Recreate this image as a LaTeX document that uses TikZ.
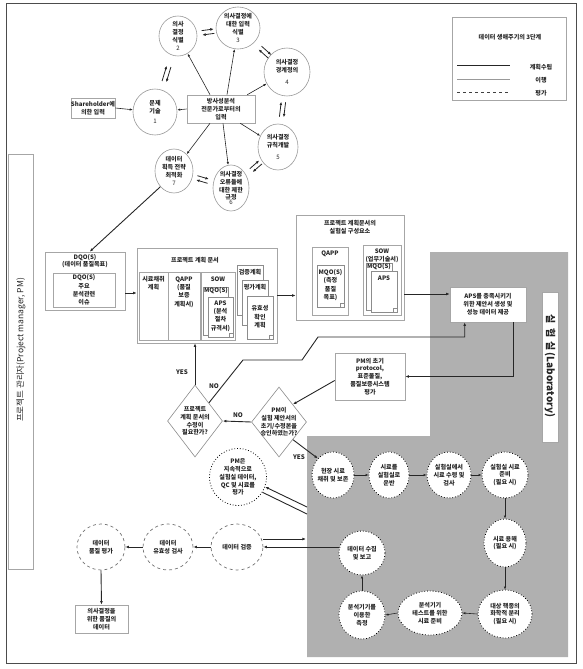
\documentclass[tikz,border=0pt]{standalone}
\usepackage{fontspec}
\setmainfont{Noto Sans CJK KR}
\usetikzlibrary{shapes.geometric,arrows.meta,calc}
\newcommand\dblarr[3]{%
  \draw[arrdbl] ($(#1)!#3-0.1!(#2)!2.2pt!90:(#2)$) -- ($(#1)!#3+0.1!(#2)!2.2pt!90:(#2)$);
  \draw[arrdbl] ($(#1)!#3+0.1!(#2)!2.2pt!-90:(#2)$) -- ($(#1)!#3-0.1!(#2)!2.2pt!-90:(#2)$);}
\begin{document}
\begin{tikzpicture}[x=1pt,y=-1pt,
  font=\fontsize{6.1}{7.8}\selectfont\bfseries,
  every node/.style={align=center, inner sep=0pt, text=black!85},
  arr/.style={-{Latex[length=3.6pt,width=2.8pt]}, line width=0.9pt, black!85},
  arrthin/.style={-{Latex[length=3pt,width=2.4pt]}, line width=0.6pt, black!85},
  arrdbl/.style={-{Latex[length=3.4pt,width=2.8pt]}, line width=0.8pt, black!85},
  topc/.style={ellipse, draw=black!40, line width=0.6pt, fill=white},
  labc/.style={ellipse, draw=black, dotted, line width=0.8pt, fill=white},
  evalc/.style={ellipse, draw=black!55, dashed, line width=0.7pt, fill=white},
  box/.style={draw=black!35, line width=0.6pt, fill=white},
  doc/.style={draw=black!45, line width=0.5pt, fill=white},
  dia/.style={diamond, draw=black!45, line width=0.6pt, fill=white},
  tall/.style={font=\fontsize{6.1}{8.4}\selectfont\bfseries},
]
\useasboundingbox (0,0) rectangle (583,669);
% laboratory region
\fill[black!31] (430,252) -- (568,252) -- (568,657) -- (307,657) -- (307,436) -- (430,436) -- cycle;
% outer frame
\draw[black!70, line width=1pt] (6,4) rectangle (576,663);

% legend
\node[box, minimum width=114, minimum height=83, anchor=north west] (leg) at (452,17) {};
\node (legt) at (510,37) {데이터 생애주기의 3단계};
\coordinate (l1a) at (457,66); \coordinate (l1b) at (510,66);
\coordinate (l2a) at (457,79); \coordinate (l2b) at (510,79);
\coordinate (l3a) at (457,92); \coordinate (l3b) at (510,92);
\draw[line width=1pt, black!85] (l1a) -- (l1b);
\draw[line width=0.5pt, black!40] (l2a) -- (l2b);
\draw[line width=0.8pt, black!75, dashed] (l3a) -- (l3b);
\node (l1t) at (541,67) {계획수립};
\node (l2t) at (541,80) {이행};
\node (l3t) at (541,93) {평가};

% PM label
\node[box, minimum width=25, minimum height=415] (pmlab) at (20.5,362) {};
\node[rotate=90, font=\fontsize{8.5}{10}\selectfont] (pmlabt) at (21,350) {프로젝트 관리자(Project manager, PM)};

% lab label
\node[box, minimum width=16, minimum height=150] (lablab) at (550,367) {};
\node[rotate=-90, font=\fontsize{10}{12}\selectfont\bfseries] (lablabt) at (550,366) {실\,\ 험\,\ 실\ (Laboratory)};

% top cluster
\node[box, minimum width=68, minimum height=28] (src) at (221,109) {방사성분석\\전문가로부터의\\입력};
\node[box, minimum width=41, minimum height=20] (sh) at (93,108) {Shareholder에\\의한 입력};
\node[topc, minimum width=44, minimum height=46, label={[align=center]center:{문제\\기술\\[3pt]{\normalfont 1}}}] (c1) at (155,112) {};
\node[topc, minimum width=38, minimum height=40, label={[align=center]center:{의사\\결정\\식별\\{\normalfont 2}}}] (c2) at (178,36) {};
\node[topc, minimum width=44, minimum height=42, label={[align=center]center:{의사결정에\\대한 입력\\식별\\{\normalfont 3}}}] (c3) at (238,28) {};
\node[topc, minimum width=46, minimum height=48, label={[align=center]center:{의사결정\\경계정의\\[4pt]{\normalfont 4}}}] (c4) at (287,72) {};
\node[topc, minimum width=40, minimum height=46, label={[align=center]center:{의사결정\\규칙개발\\[4pt]{\normalfont 5}}}] (c5) at (278,147) {};
\node[topc, minimum width=36, minimum height=46, label={[align=center]center:{의사결정\\오류들에\\대한 제한\\규정\\[-3pt]{\normalfont 6}}}] (c6) at (231,188) {};
\node[topc, minimum width=38, minimum height=44, label={[align=center]center:{데이터\\획득 전략\\최적화\\{\normalfont 7}}}] (c7) at (174,171) {};

\draw[arrthin] (src.west) -- (c1);
\draw[arrthin] (sh.east) -- (c1);
\draw[arrthin] ([xshift=-11pt]src.north) -- (c2);
\draw[arrthin] ([xshift=6pt]src.north) -- (c3);
\draw[arrthin] ([xshift=-8pt]src.north east) -- (c4);
\draw[arrthin] ([xshift=-15pt]src.south east) -- (c5);
\draw[arrthin] ([xshift=2pt]src.south) -- (c6);
\draw[arrthin] ([xshift=-11pt]src.south) -- (c7);
\dblarr{c1}{c2}{0.5}
\dblarr{c2}{c3}{0.5}
\dblarr{c3}{c4}{0.55}
\dblarr{c4}{c5}{0.5}
\dblarr{c5}{c6}{0.47}
\dblarr{c6}{c7}{0.5}

% DQO
\node[box, minimum width=80, minimum height=58] (dqo) at (85,281) {};
\node (dqot) at (85,261) {DQO(S)\\(데이터 품질목표)};
\node[box, minimum width=62, minimum height=34, tall] (dqoi) at (84,290) {DQO(S)\\주요\\분석관련\\이슈};
\draw[arr] (c7.south west) -- ([xshift=45pt]dqo.north west);

% project plan document
\node[box, minimum width=140, minimum height=95] (plan) at (207,295.5) {};
\node (plant) at (195,260) {프로젝트 계획 문서};
\node[box, minimum width=29, minimum height=68, anchor=north west] (pc1) at (139,272) {};
\node (pc1t) at (153.5,283) {시료채취\\계획};
\node[box, minimum width=32, minimum height=68, anchor=north west] (pc2) at (168,272) {};
\node[tall] (pc2t) at (184,292) {QAPP\\(품질\\보증\\계획서)};
\node[box, minimum width=34, minimum height=68, anchor=north west] (pc3) at (201,272) {};
\node (pc3t) at (218,279) {SOW};
\node[doc, minimum width=25, minimum height=48, anchor=north west] (pmqo) at (203,287) {};
\node (pmqot) at (216,291) {MQO(S)};
\node[doc, minimum width=25, minimum height=40, anchor=north west] (paps) at (208,297) {};
\node[tall] (papst) at (220.5,316) {APS\\(분석\\절차\\규격서)};
\node[doc, minimum width=26, minimum height=50, anchor=north west] (pd1) at (237,265) {};
\node (pd1t) at (250,272) {검증계획};
\node[doc, minimum width=26, minimum height=45, anchor=north west] (pd2) at (242,280) {};
\node (pd2t) at (255,287) {평가계획};
\node[doc, minimum width=26, minimum height=43, anchor=north west] (pd3) at (247,296) {};
\node[tall] (pd3t) at (260,317) {유효성\\확인\\계획};
\foreach \n in {paps,pd3}{
  \draw[black!45, line width=0.5pt] ([xshift=-4pt]\n.south east) -- ([xshift=-4pt,yshift=4pt]\n.south east) -- ([yshift=4pt]\n.south east);}

\draw[arr] ([yshift=-12pt]dqo.east) -- ([yshift=-12pt]dqo.east -| plan.west);

% lab components
\node[box, minimum width=108, minimum height=105] (lc) at (350,267.5) {};
\node (lct) at (350,227) {프로젝트 계획문서의\\실험실 구성요소};
\node[box, minimum width=36, minimum height=68, anchor=north west] (lq) at (312,247) {};
\node (lqt) at (330,254) {QAPP};
\node[doc, minimum width=27, minimum height=42, anchor=north west] (lqm) at (317,265) {};
\node[tall] (lqmt) at (330.5,285) {MQO(S)\\(측정\\품질\\목표)};
\node[box, minimum width=38, minimum height=70, anchor=north west] (ls) at (363,245) {};
\node (lst) at (382,256) {SOW\\(업무기술서)};
\node[doc, minimum width=26, minimum height=47, anchor=north west] (lsm) at (366,263) {};
\node (lsmt) at (379,267) {MQO(S)};
\node[doc, minimum width=26, minimum height=41, anchor=north west] (lsa) at (371,271) {};
\node (lsat) at (384,278) {APS};
\foreach \n in {lqm,lsa}{
  \draw[black!45, line width=0.5pt] ([xshift=-4pt]\n.south east) -- ([xshift=-4pt,yshift=4pt]\n.south east) -- ([yshift=4pt]\n.south east);}

\draw[arr] (plan.east) -- (plan.east -| lc.west);

% APS box
\node[box, minimum width=76, minimum height=35] (aps) at (488,304.5) {APS를 충족시키기\\위한 제안서 생성 및\\성능 데이터 제공};
\draw[arr] ([yshift=-26.5pt]lc.east) -- ([yshift=-26.5pt]lc.east -| aps.west);

% PM evaluation box
\node[box, minimum width=70, minimum height=47] (pm) at (370,376.5) {PM의 초기\\protocol,\\표준물질,\\품질보증시스템\\평가};
\draw[arr] ([xshift=-13pt]aps.south east) |- (pm.east);

% diamonds
\node[dia, minimum width=55, minimum height=72] (d1) at (195,421) {};
\node (d1t) at (195,421) {프로젝트\\계획 문서의\\수정이\\필요한가?};
\node[dia, minimum width=55, minimum height=70] (d2) at (279,422) {};
\node (d2t) at (279,422) {PM이\\실험 제안서의\\초기/수정본을\\승인하였는가?};

\coordinate (k1) at (243,360);
\coordinate (k2) at (302,360);
\coordinate (k3) at (318,337);
\draw[arr] ($(d1.north)!0.5!(d1.east)$) -- (k1) -- (k2) -- (k3) -| ([xshift=15pt]aps.south west);
\draw[arr] ([yshift=-4pt]pm.west) -- ($(d2.north)!0.5!(d2.east)$);
\draw[arr] (d2.west) -- (d1.east);
\draw[arr] (d1.north) -- (d1.north |- plan.south);

\node[font=\fontsize{6.3}{7}\selectfont\bfseries] (yes1) at (182,372) {YES};
\node[font=\fontsize{6.3}{7}\selectfont\bfseries] (no1) at (214,386) {NO};
\node[font=\fontsize{6.3}{7}\selectfont\bfseries] (no2) at (238,415) {NO};
\node[font=\fontsize{6.3}{7}\selectfont\bfseries] (yes2) at (299,457) {YES};

% PM continuous evaluation
\node[labc, minimum width=57, minimum height=57, label={[align=center]center:{PM은\\지속적으로\\실험실 데이터,\\QC 및 시료를\\평가}}] (pmc) at (238,477) {};
\coordinate (pu) at (307,507);
\coordinate (pd) at (307,514);
\draw[arr] (pu) -- (pmc.-20);
\draw[line width=0.9pt, black!85] (pmc.-32) -- (pd);

% lab circles
\node[labc, minimum width=42, minimum height=46, label={[align=center]center:{현장 시료\\채취 및 보존}}] (f1) at (333,475) {};
\node[labc, minimum width=40, minimum height=46, label={[align=center]center:{시료를\\실험실로\\운반}}] (f2) at (389,475) {};
\node[labc, minimum width=44, minimum height=46, label={[align=center]center:{실험실에서\\시료 수령 및\\검사}}] (f3) at (449,475) {};
\node[labc, minimum width=46, minimum height=46, label={[align=center]center:{실험실 시료\\준비\\(필요 시)}}] (f4) at (505,475) {};
\node[labc, minimum width=42, minimum height=48, label={[align=center]center:{시료 용해\\(필요 시)}}] (f5) at (505,543) {};
\node[labc, minimum width=54, minimum height=48, label={[align=center]center:{대상 핵종의\\화학적 분리\\(필요 시)}}] (f6) at (505,614) {};
\node[labc, minimum width=64, minimum height=44, label={[align=center]center:{분석기기\\테스트를 위한\\시료 준비}}] (f7) at (430,613) {};
\node[labc, minimum width=46, minimum height=48, label={[align=center]center:{분석기기를\\이용한\\측정}}] (f8) at (362,615) {};
\node[labc, minimum width=46, minimum height=44, label={[align=center]center:{데이터 수집\\및 보고}}] (f9) at (362,553) {};

\draw[arr] ($(d2.south)!0.5!(d2.east)$) -- (f1.north west);
\draw[arrthin] (f1.east) -- (f2.west);
\draw[arrthin] (f2.east) -- (f3.west);
\draw[arrthin] (f3.east) -- (f4.west);
\draw[arrthin] (f4.south) -- (f5.north);
\draw[arrthin] (f5.south) -- (f6.north);
\draw[arrthin] (f6.west) -- (f7.east);
\draw[arrthin] (f7.west) -- (f8.east);
\draw[arrthin] (f8.north) -- (f9.south);

% evaluation circles
\node[evalc, minimum width=52, minimum height=46, label={[align=center]center:{데이터 검증}}] (e1) at (237,547) {};
\node[evalc, minimum width=50, minimum height=46, label={[align=center]center:{데이터\\유효성 검사}}] (e2) at (168,547) {};
\node[evalc, minimum width=48, minimum height=46, label={[align=center]center:{데이터\\품질 평가}}] (e3) at (101,547) {};
\node[box, minimum width=53, minimum height=28] (out) at (101.5,619) {의사결정을\\위한 품질의\\데이터};

\coordinate (gedge) at (306,539);
\draw[arr] ([yshift=8pt]e1.east) -- (gedge);
\draw[arr] (f9.west |- e1.east) -- (e1.east);
\draw[arr] (e1.west) -- (e2.east);
\draw[arr] (e2.west) -- (e3.east);
\draw[arr] (e3.south) -- (out.north);
\end{tikzpicture}
\end{document}
